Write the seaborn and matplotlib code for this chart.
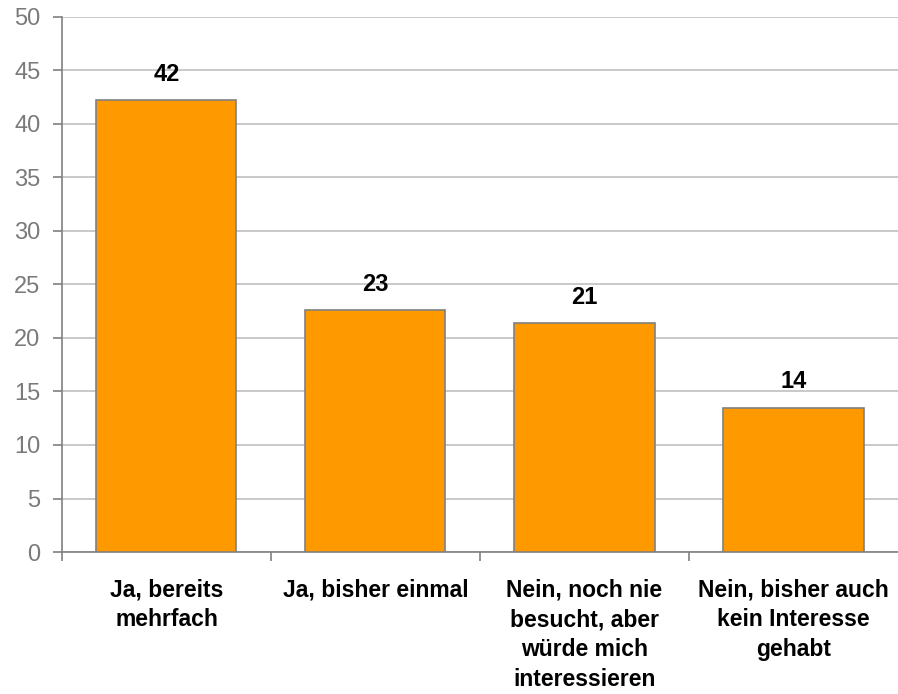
import numpy as np
import pandas as pd
import seaborn as sns
import matplotlib.pyplot as plt
from matplotlib.ticker import FixedLocator

# Datos
kategorien = ["Ja, bereits\nmehrfach", "Ja, bisher einmal",
              "Nein, noch nie\nbesucht, aber\nwürde mich\ninteressieren",
              "Nein, bisher auch\nkein Interesse\ngehabt"]
werte = [42.2, 22.6, 21.4, 13.5]
beschriftung = ["42", "23", "21", "14"]

df = pd.DataFrame({"kategorie": kategorien, "wert": werte})

sns.set_style("white")
plt.rcParams["font.family"] = ["Liberation Sans", "DejaVu Sans"]
plt.rcParams["text.color"] = "black"

fig = plt.figure(figsize=(8.98, 6.94), dpi=100)
ax = fig.add_axes([0.069, 0.2046, 0.931, 0.771])

sns.barplot(data=df, x="kategorie", y="wert", color="#FF9900",
            saturation=1, width=0.67, edgecolor="#808080", linewidth=1.2,
            ax=ax, zorder=3)

for i, (v, t) in enumerate(zip(werte, beschriftung)):
    ax.text(i, v + 2.4, t, ha="center", va="center", fontsize=17,
            fontweight="bold", color="black")

ax.set_ylim(0, 50)
ax.set_xlim(-0.5, 3.5)
ax.set_yticks(range(0, 51, 5))
ax.yaxis.grid(True, color="#c0c0c0", linewidth=1.2, zorder=0)
ax.set_axisbelow(True)

ax.tick_params(axis="y", colors="#808080", labelcolor="#7a7a7a", labelsize=17,
               length=6.5, width=1.2, direction="out", left=True, pad=9)
ax.tick_params(axis="x", which="major", length=0, pad=19, labelsize=16.5,
               labelcolor="black")
ax.xaxis.set_minor_locator(FixedLocator([-0.5, 0.5, 1.5, 2.5]))
ax.tick_params(axis="x", which="minor", length=6.5, width=1.2, color="#808080",
               bottom=True, direction="out")
for lab in ax.get_xticklabels():
    lab.set_fontweight("bold")
    lab.set_va("top")
    lab.set_linespacing(1.38)

for s in ["top", "right"]:
    ax.spines[s].set_visible(False)
for s in ["left", "bottom"]:
    ax.spines[s].set_color("#808080")
    ax.spines[s].set_linewidth(1.2)

ax.set_xlabel("")
ax.set_ylabel("")

fig.savefig("out.png", dpi=100)
